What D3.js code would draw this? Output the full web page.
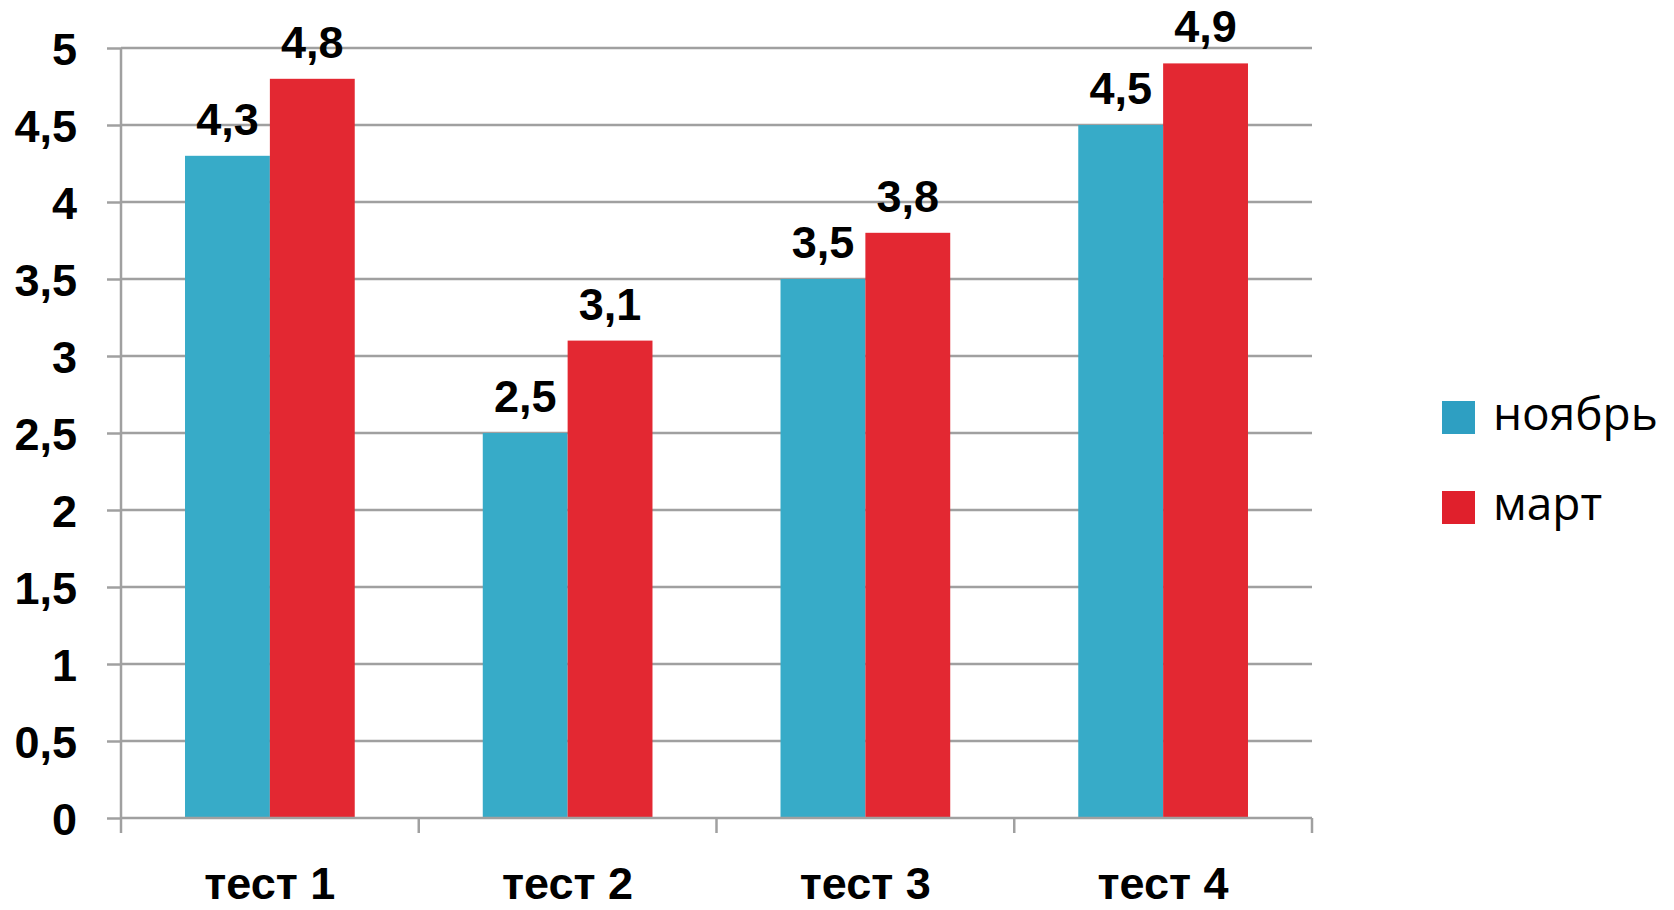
<!DOCTYPE html>
<html>
<head>
<meta charset="utf-8">
<script src="https://cdn.jsdelivr.net/npm/d3@7"></script>
<style>
  body { margin: 0; background: #fff; }
  .num { font-family: "Liberation Sans", Arial, sans-serif; font-weight: bold; }
  .leg { font-family: "Open Sans", "Noto Sans", sans-serif; }
</style>
</head>
<body>
<script>
// data
var categories = ["тест 1", "тест 2", "тест 3", "тест 4"];
var seriesNames = ["ноябрь", "март"];
var november = [4.3, 2.5, 3.5, 4.5];
var march = [4.8, 3.1, 3.8, 4.9];
var yTicks = [0, 0.5, 1, 1.5, 2, 2.5, 3, 3.5, 4, 4.5, 5];

var colors = ["#37abc8", "#e32832"];
var legendColors = ["#2e9fc2", "#e0202c"];

var margin = {top: 48, left: 121},
    width = 1191,
    height = 770;

var svg = d3.select("body").append("svg")
    .attr("width", 1674)
    .attr("height", 910);

var g = svg.append("g")
    .attr("transform", "translate(" + margin.left + "," + margin.top + ")");

var x0 = d3.scaleBand()
    .domain(categories)
    .range([0, width])
    .paddingInner(0.43)
    .paddingOuter(0.215);

var x1 = d3.scaleBand()
    .domain(seriesNames)
    .range([0, x0.bandwidth()]);

var y = d3.scaleLinear()
    .domain([0, 5])
    .range([height, 0]);

// gridlines
g.append("g").selectAll("line")
    .data(yTicks.slice(1))
    .enter().append("line")
    .attr("x1", 0).attr("x2", width)
    .attr("y1", function(d) { return y(d); })
    .attr("y2", function(d) { return y(d); })
    .style("stroke", "#a0a0a0")
    .style("stroke-width", 2.5);

// bars
var rows = categories.map(function(c, i) {
    return {cat: c, vals: [november[i], march[i]]};
});

var groups = g.append("g").selectAll("g")
    .data(rows)
    .enter().append("g")
    .attr("transform", function(d) { return "translate(" + x0(d.cat) + ",0)"; });

groups.selectAll("rect")
    .data(function(d) { return d.vals.map(function(v, j) { return {name: seriesNames[j], v: v, j: j}; }); })
    .enter().append("rect")
    .attr("x", function(d) { return x1(d.name); })
    .attr("width", x1.bandwidth())
    .attr("y", function(d) { return y(d.v); })
    .attr("height", function(d) { return height - y(d.v); })
    .style("fill", function(d) { return colors[d.j]; });

groups.selectAll("text")
    .data(function(d) { return d.vals.map(function(v, j) { return {name: seriesNames[j], v: v}; }); })
    .enter().append("text")
    .attr("class", "num")
    .attr("x", function(d) { return x1(d.name) + x1.bandwidth() / 2; })
    .attr("y", function(d) { return y(d.v) - 21; })
    .attr("text-anchor", "middle")
    .style("font-size", "45px")
    .text(function(d) { return String(d.v).replace(".", ","); });

// y axis
var yAxis = d3.axisLeft(y)
    .tickValues(yTicks)
    .tickSize(14)
    .tickPadding(30)
    .tickFormat(function(d) { return String(d).replace(".", ","); });

var ya = g.append("g").call(yAxis);
ya.select(".domain").style("stroke", "#a0a0a0").style("stroke-width", 2.5).attr("d", "M0," + height + "V0");
ya.selectAll(".tick line").style("stroke", "#a0a0a0").style("stroke-width", 2.5);
ya.selectAll(".tick text")
    .attr("class", "num")
    .attr("dy", "0.36em")
    .style("font-size", "45px")
    .style("fill", "#000");

// x axis, ticks on band edges
var xa = g.append("g").attr("transform", "translate(0," + height + ")");
xa.append("line").attr("x1", 0).attr("x2", width)
    .style("stroke", "#a0a0a0").style("stroke-width", 2.5);
var edges = d3.range(categories.length + 1).map(function(i) { return i * width / categories.length; });
xa.selectAll("line.edge")
    .data(edges)
    .enter().append("line")
    .attr("class", "edge")
    .attr("x1", function(d) { return d; }).attr("x2", function(d) { return d; })
    .attr("y1", 0).attr("y2", 15)
    .style("stroke", "#a0a0a0").style("stroke-width", 2.5);
xa.selectAll("text")
    .data(categories)
    .enter().append("text")
    .attr("class", "num")
    .attr("x", function(d) { return x0(d) + x0.bandwidth() / 2; })
    .attr("y", 81)
    .attr("text-anchor", "middle")
    .style("font-size", "45px")
    .text(function(d) { return d; });

// legend
var legend = svg.append("g").attr("transform", "translate(1442,401)");
var items = legend.selectAll("g")
    .data(seriesNames)
    .enter().append("g")
    .attr("transform", function(d, i) { return "translate(0," + (i * 90) + ")"; });
items.append("rect")
    .attr("width", 33).attr("height", 33)
    .style("fill", function(d, i) { return legendColors[i]; });
items.append("text")
    .attr("class", "leg")
    .attr("x", 51)
    .attr("y", 29)
    .style("font-size", "46px")
    .text(function(d) { return d; });
</script>
</body>
</html>
